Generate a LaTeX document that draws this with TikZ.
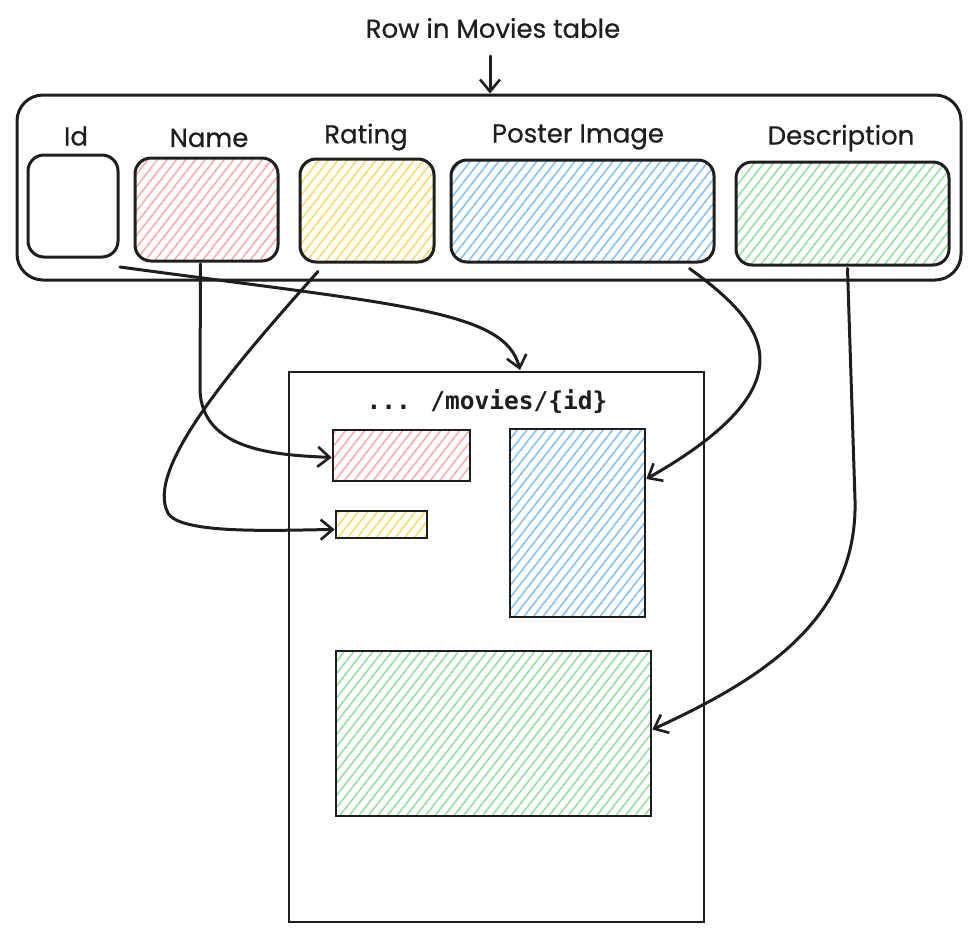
\documentclass[tikz,border=0pt]{standalone}
\usepackage{fontspec}
\setmainfont{Poppins}[FakeBold=0.6]
\newfontfamily\codefont{DejaVu Sans Mono}
\usetikzlibrary{arrows.meta,patterns.meta}
\definecolor{inkc}{HTML}{1E1E1E}
\definecolor{pinkc}{HTML}{FFA8A8}
\definecolor{yellowc}{HTML}{FFD95A}
\definecolor{bluec}{HTML}{7CC2F8}
\definecolor{greenc}{HTML}{8CE29A}
\tikzset{
  box/.style={draw=inkc, line width=3pt, rounded corners=16pt, minimum width=#1, inner sep=0pt},
  tgt/.style={draw=inkc, line width=2.6pt, inner sep=0pt},
  hatch/.style={pattern={Lines[angle=52,distance=7.5pt,line width=1.5pt]}, pattern color=#1},
  lbl/.style={font=\fontsize{26}{30}\selectfont, text=inkc, inner sep=0pt},
  conn/.style={draw=inkc, line width=3pt, line cap=round, -{Straight Barb[length=12pt,width=20pt,line width=2.6pt]}}
}
\begin{document}
\begin{tikzpicture}[x=1pt,y=-1pt]
\useasboundingbox (0,0) rectangle (976,946);
% title
\node[lbl] (title) at (493,28) {Row in Movies table};
\coordinate (titlearr) at (490,56);
% outer row
\node[draw=inkc, line width=3pt, rounded corners=26pt, minimum width=944pt, minimum height=185pt, inner sep=0pt] (row) at (489,187.5) {};
\draw[conn] (titlearr) -- (titlearr |- row.north);
% cells
\node[box=90pt, minimum height=102pt] (id) at (73,206) {};
\node[box=143pt, minimum height=103pt, hatch=pinkc] (name) at (206.5,209.5) {};
\node[box=134pt, minimum height=103pt, hatch=yellowc] (rating) at (367,210.5) {};
\node[box=263pt, minimum height=102pt, hatch=bluec] (poster) at (582.5,211) {};
\node[box=213pt, minimum height=103pt, hatch=greenc] (desc) at (842.5,213.5) {};
% labels
\node[lbl] (lid) at (76,136) {Id};
\node[lbl] (lname) at (209,138) {Name};
\node[lbl] (lrating) at (366,137) {Rating};
\node[lbl] (lposter) at (578,137) {Poster Image};
\node[lbl] (ldesc) at (841,138) {Description};
% page
\node[draw=inkc, line width=2.6pt, minimum width=415pt, minimum height=550pt, inner sep=0pt] (page) at (496.5,647) {};
\node[font=\codefont\bfseries\fontsize{24.5}{28}\selectfont, text=inkc, inner sep=0pt] (url) at (487,402) {... /movies/\{id\}};
\node[tgt, minimum width=137pt, minimum height=51pt, hatch=pinkc] (nameT) at (401.5,455.5) {};
\node[tgt, minimum width=91pt, minimum height=27pt, hatch=yellowc] (ratingT) at (381.5,524.5) {};
\node[tgt, minimum width=135pt, minimum height=188pt, hatch=bluec] (posterT) at (577.5,523) {};
\node[tgt, minimum width=315pt, minimum height=165pt, hatch=greenc] (descT) at (493.5,733.5) {};
% connectors
\coordinate (idstart) at (120,267);
\coordinate (idend) at (520,370);
\draw[conn] (idstart) .. controls (400,305) and (505,310) .. (idend);
\draw[conn] ([xshift=-6pt,yshift=-2pt]name.south) -- (200,390) .. controls (202,452) and (280,455) .. ([yshift=-2pt]nameT.west);
\draw[conn] ([xshift=-49pt,yshift=-8pt]rating.south) .. controls (230,370) and (145,470) .. (168,513) .. controls (180,535) and (280,530) .. ([yshift=-5pt]ratingT.west);
\draw[conn] ([xshift=107pt,yshift=-5pt]poster.south) .. controls (760,320) and (820,380) .. ([yshift=44pt]posterT.east);
\draw[conn] ([xshift=5pt,yshift=-2pt]desc.south) -- (855,500) .. controls (858,620) and (760,680) .. ([yshift=4pt]descT.east);
\end{tikzpicture}
\end{document}
